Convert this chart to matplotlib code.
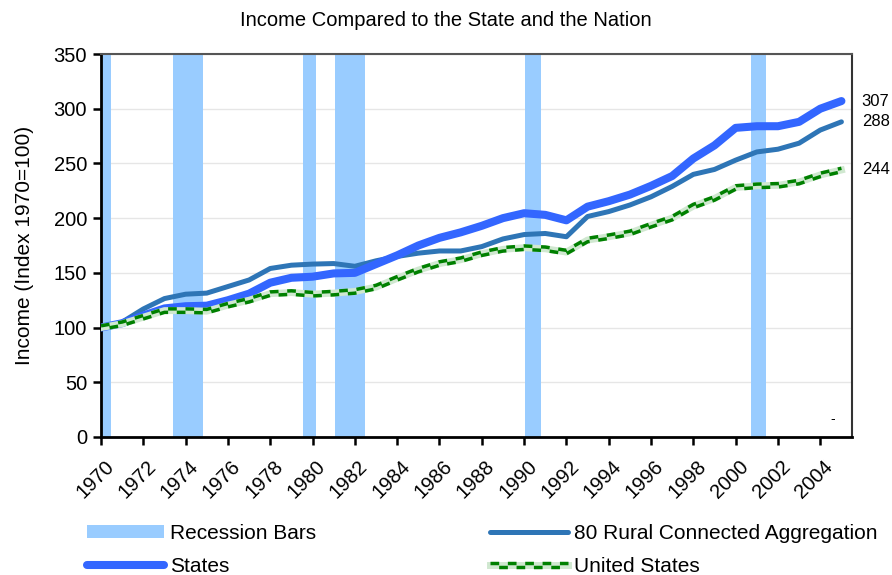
import matplotlib
matplotlib.use("Agg")
import matplotlib.pyplot as plt
import matplotlib.transforms as mtransforms
from matplotlib.lines import Line2D
from matplotlib.patches import Patch
from matplotlib.legend_handler import HandlerBase

plt.rcParams['font.family'] = ['Liberation Sans', 'DejaVu Sans']

title = "Income Compared to the State and the Nation"
ylabel = "Income (Index 1970=100)"

years = list(range(1970, 2006))
states = [100, 104, 111, 117.5, 119.5, 120, 125, 131, 141, 145.5, 146.5, 149.5,
          150, 158, 166, 175, 182, 187, 193, 200, 204.5, 203, 198, 210.5, 215.5,
          221.5, 229.5, 238.5, 254.5, 266.5, 282.5, 284, 284, 288, 300, 307]
rural = [100, 105, 117, 126.5, 130.5, 131.5, 137.5, 143.5, 154, 157, 158, 158.5,
         156, 161, 165, 168, 170, 170, 174, 181, 185, 186, 183, 201.5, 206, 212,
         219.5, 229, 240, 244.5, 253, 260.5, 263, 268.5, 280.5, 288]
us = [100, 103.5, 109.5, 115.5, 115.5, 115, 120.5, 125, 131, 132, 130.5, 131.5,
      133, 137, 145, 152.5, 158.5, 162, 167.5, 171.5, 173, 172, 169, 180, 183,
      186.5, 193.5, 200, 211, 218, 228, 229.5, 230, 233, 239.5, 244]

recession_start = [1969.9, 1973.4, 1979.55, 1981.05, 1990.05, 2000.72]
recession_end = [1970.45, 1974.82, 1980.17, 1982.48, 1990.8, 2001.44]

end_labels = ["307", "288", "244"]
end_values = [307, 288, 244]

C_REC = "#99CCFF"
C_STATES = "#3366FF"
C_RURAL = "#2E75B6"
C_US = "#008000"
C_US_BASE = "#D0E8D0"

fig = plt.figure(figsize=(8.92, 5.75), dpi=100)
ax = fig.add_axes([101/892, 1-437/575, (852-101)/892, (437-54)/575])

ax.set_axisbelow(True)
ax.yaxis.grid(True, color="#E6E6E6", linewidth=1.0)

for s, e in zip(recession_start, recession_end):
    ax.axvspan(s, e, color=C_REC, lw=0, zorder=1)

ax.plot(years, rural, color=C_RURAL, lw=3.6, solid_capstyle='round', zorder=3)
ax.plot(years, states, color=C_STATES, lw=5.8, solid_capstyle='round', zorder=4)

# checkered US line: light base + two offset dashed rows
ax.plot(years, us, color=C_US_BASE, lw=5.0, zorder=5)
up = mtransforms.offset_copy(ax.transData, fig=fig, x=0, y=1.25, units='points')
dn = mtransforms.offset_copy(ax.transData, fig=fig, x=0, y=-1.25, units='points')
l1, = ax.plot(years, us, color=C_US, lw=2.5, linestyle=(0, (2.5, 2.5)),
              transform=up, zorder=6)
l2, = ax.plot(years, us, color=C_US, lw=2.5, linestyle=(2.5, (2.5, 2.5)),
              transform=dn, zorder=6)
l1.set_dash_capstyle('butt')
l2.set_dash_capstyle('butt')

ax.set_xlim(1970, 2005.5)
ax.set_ylim(0, 350)
ax.set_yticks(range(0, 351, 50))
ax.set_xticks(range(1970, 2005, 2))
ax.set_xticklabels([str(y) for y in range(1970, 2005, 2)], rotation=45,
                   ha='right', va='top', rotation_mode='anchor')
ax.tick_params(axis='both', direction='out', length=6, width=1.8, labelsize=14.5,
               color='black', pad=4)
ax.tick_params(axis='x', pad=8)
shift = mtransforms.ScaledTranslation(3/100, 0, fig.dpi_scale_trans)
for lab in ax.get_xticklabels():
    lab.set_transform(lab.get_transform() + shift)

for side in ['left', 'bottom']:
    ax.spines[side].set_linewidth(2.0)
    ax.spines[side].set_color('black')
ax.spines['right'].set_linewidth(1.5)
ax.spines['right'].set_color('#333333')
ax.spines['top'].set_linewidth(1.5)
ax.spines['top'].set_color('#555555')

ax.set_ylabel(ylabel, fontsize=15)
ax.yaxis.set_label_coords((34-101)/751, 0.5)

fig.text(0.5, 1-20/575, title, ha='center', va='center', fontsize=14.5)

for lab, v in zip(end_labels, end_values):
    ax.annotate(lab, xy=(1, v), xycoords=('axes fraction', 'data'),
                xytext=(7, 0), textcoords='offset points', va='center',
                ha='left', fontsize=12)
ax.text(2004.6, 16, "-", fontsize=10, ha='center', va='center')


class CheckHandler(HandlerBase):
    def create_artists(self, legend, orig_handle, xdescent, ydescent,
                       width, height, fontsize, trans):
        y = height / 2 - ydescent
        xs = [-xdescent, width - xdescent]
        base = Line2D(xs, [y, y], color=C_US_BASE, lw=5.0, transform=trans)
        a = Line2D(xs, [y + 1.25, y + 1.25], color=C_US, lw=2.5,
                   linestyle=(0, (2.5, 2.5)), transform=trans)
        b = Line2D(xs, [y - 1.25, y - 1.25], color=C_US, lw=2.5,
                   linestyle=(2.5, (2.5, 2.5)), transform=trans)
        a.set_dash_capstyle('butt')
        b.set_dash_capstyle('butt')
        return [base, a, b]


us_handle = Line2D([], [], color=C_US)
handles = [
    Patch(facecolor=C_REC, edgecolor='none'),
    Line2D([], [], color=C_STATES, lw=5.8, solid_capstyle='round'),
    Line2D([], [], color=C_RURAL, lw=3.6, solid_capstyle='round'),
    us_handle,
]
labels = ["Recession Bars", "States", "80 Rural Connected Aggregation", "United States"]
fig.legend(handles, labels, ncol=2, loc='upper left',
           bbox_to_anchor=(87/892, 1-524/575), frameon=False, fontsize=15,
           handlelength=3.7, handleheight=0.55, handletextpad=0.3,
           columnspacing=8.35, labelspacing=0.68, borderpad=0, borderaxespad=0,
           handler_map={us_handle: CheckHandler()})

fig.savefig("out.png", dpi=100)
